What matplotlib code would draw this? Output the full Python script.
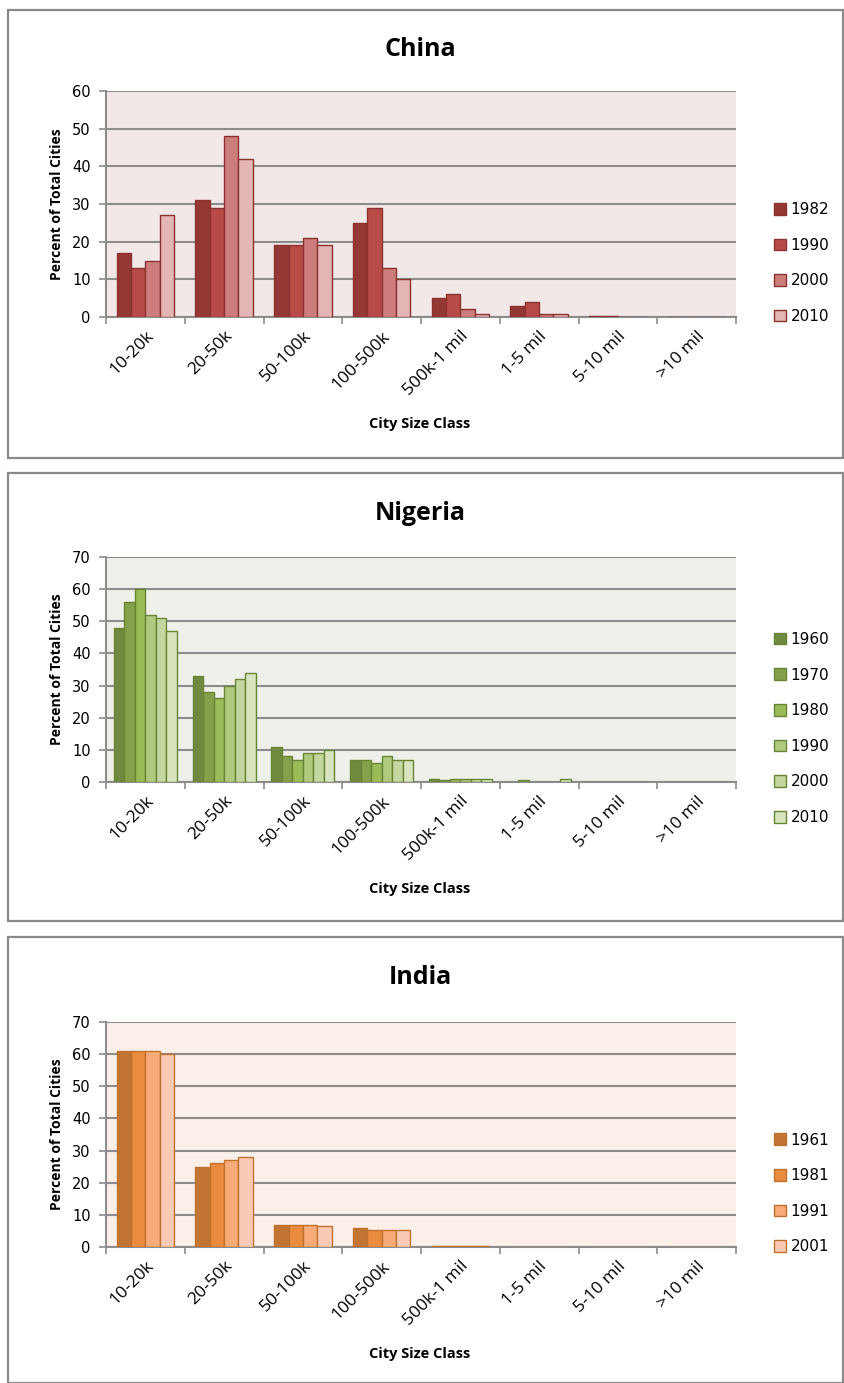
import matplotlib
matplotlib.use("Agg")
import matplotlib.pyplot as plt
import numpy as np
from matplotlib.patches import Rectangle

W, H = 844, 1383

size_classes = ["10-20k", "20-50k", "50-100k", "100-500k", "500k-1 mil", "1-5 mil", "5-10 mil", ">10 mil"]

china_years = ["1982", "1990", "2000", "2010"]
china_1982 = [17, 31, 19, 25, 5, 3, 0.3, 0]
china_1990 = [13, 29, 19, 29, 6, 4, 0.3, 0]
china_2000 = [15, 48, 21, 13, 2, 0.8, 0, 0]
china_2010 = [27, 42, 19, 10, 0.8, 0.8, 0, 0]

nigeria_years = ["1960", "1970", "1980", "1990", "2000", "2010"]
nigeria_1960 = [48, 33, 11, 7, 1, 0, 0, 0]
nigeria_1970 = [56, 28, 8, 7, 0.5, 0.5, 0, 0]
nigeria_1980 = [60, 26, 7, 6, 1, 0, 0, 0]
nigeria_1990 = [52, 30, 9, 8, 1, 0, 0, 0]
nigeria_2000 = [51, 32, 9, 7, 1, 0, 0, 0]
nigeria_2010 = [47, 34, 10, 7, 1, 1, 0, 0]

india_years = ["1961", "1981", "1991", "2001"]
india_1961 = [61, 25, 7, 5.8, 0.4, 0, 0, 0]
india_1981 = [61, 26, 7, 5.2, 0.4, 0, 0, 0]
india_1991 = [61, 27, 7, 5.2, 0.4, 0, 0, 0]
india_2001 = [60, 28, 6.5, 5.2, 0.4, 0, 0, 0]


def fig_rect(l, t, r, b):
    return [l / W, 1 - b / H, (r - l) / W, (b - t) / H]


def draw_panel(fig, frame, axbox, title, years, series, fills, edge, bg, ymax):
    l, t, r, b = frame
    fig.patches.append(Rectangle((l / W, 1 - b / H), (r - l) / W, (b - t) / H,
                                 transform=fig.transFigure, fill=False,
                                 edgecolor="#8a8a8a", linewidth=1.6, zorder=0))
    fig.text(420 / W, 1 - (t + 40) / H, title, ha="center", va="center",
             fontsize=18, fontweight="bold", family="Open Sans")

    ax = fig.add_axes(fig_rect(*axbox))
    ax.set_facecolor(bg)
    n = len(series)
    bw = 1.0 / (n + 1.5)
    x = np.arange(len(size_classes)) + 0.5
    bars = []
    for i, vals in enumerate(series):
        off = (i - (n - 1) / 2) * bw
        bars.append(ax.bar(x + off, vals, bw, color=fills[i], edgecolor=edge,
                           linewidth=1.0, label=years[i], zorder=3))
    ax.set_xlim(0, len(size_classes))
    ax.set_ylim(0, ymax)
    ax.set_yticks(np.arange(0, ymax + 1, 10))
    ax.yaxis.grid(True, color="#8c8c8c", linewidth=1.5, zorder=1)
    ax.set_axisbelow(True)
    for s in ["top", "right"]:
        ax.spines[s].set_visible(False)
    for s in ["left", "bottom"]:
        ax.spines[s].set_color("#8c8c8c")
        ax.spines[s].set_linewidth(1.5)
    ax.tick_params(axis="y", length=5, color="#8c8c8c", width=1.2, labelsize=10.5,
                   pad=6)
    ax.set_xticks(np.arange(0, len(size_classes) + 1))
    ax.set_xticklabels([])
    ax.tick_params(axis="x", which="major", length=5, color="#8c8c8c", width=1.2)
    ax.set_xticks(x, minor=True)
    ax.set_xticklabels(size_classes, minor=True, rotation=45, ha="right",
                       rotation_mode="anchor", fontsize=12.5, family="Open Sans")
    ax.tick_params(axis="x", which="minor", length=0, pad=8)
    for lab in ax.get_yticklabels():
        lab.set_family("DejaVu Sans")
    ax.set_ylabel("Percent of Total Cities", fontsize=10, fontweight="bold",
                  family="Open Sans", labelpad=6)
    ax.set_xlabel("City Size Class", fontsize=10.5, fontweight="bold",
                  family="Open Sans", labelpad=0)
    ax.xaxis.set_label_coords(((420 - axbox[0]) / (axbox[2] - axbox[0])),
                              -(100) / (axbox[3] - axbox[1]))
    cy = (axbox[1] + axbox[3]) / 2 + 59
    fig.legend(handles=bars, labels=years, loc="center left",
               bbox_to_anchor=(760 / W, 1 - cy / H), frameon=False,
               handlelength=0.8, handleheight=0.8,
               handletextpad=0.3, labelspacing=1.35, prop={"family": "DejaVu Sans", "size": 11})
    return ax


fig = plt.figure(figsize=(W / 100, H / 100), dpi=100)

draw_panel(fig, (8, 10, 843, 458), (106, 91, 736, 317), "China", china_years,
           [china_1982, china_1990, china_2000, china_2010],
           ["#953735", "#B84B48", "#CD7E7C", "#E3B5B4"], "#8B3230", "#F2E8E8", 60)

draw_panel(fig, (8, 473, 843, 921), (106, 557, 736, 782), "Nigeria", nigeria_years,
           [nigeria_1960, nigeria_1970, nigeria_1980, nigeria_1990, nigeria_2000, nigeria_2010],
           ["#71893F", "#86A14B", "#9BBB59", "#AFC97F", "#C3D69F", "#D7E4BD"],
           "#6A8436", "#EEF1E9", 70)

draw_panel(fig, (8, 937, 843, 1383), (106, 1022, 736, 1247), "India", india_years,
           [india_1961, india_1981, india_1991, india_2001],
           ["#C27433", "#E98C40", "#F7AB78", "#FACBB4"], "#C0712E", "#FBEFEA", 70)

fig.savefig("out.png", dpi=100)
